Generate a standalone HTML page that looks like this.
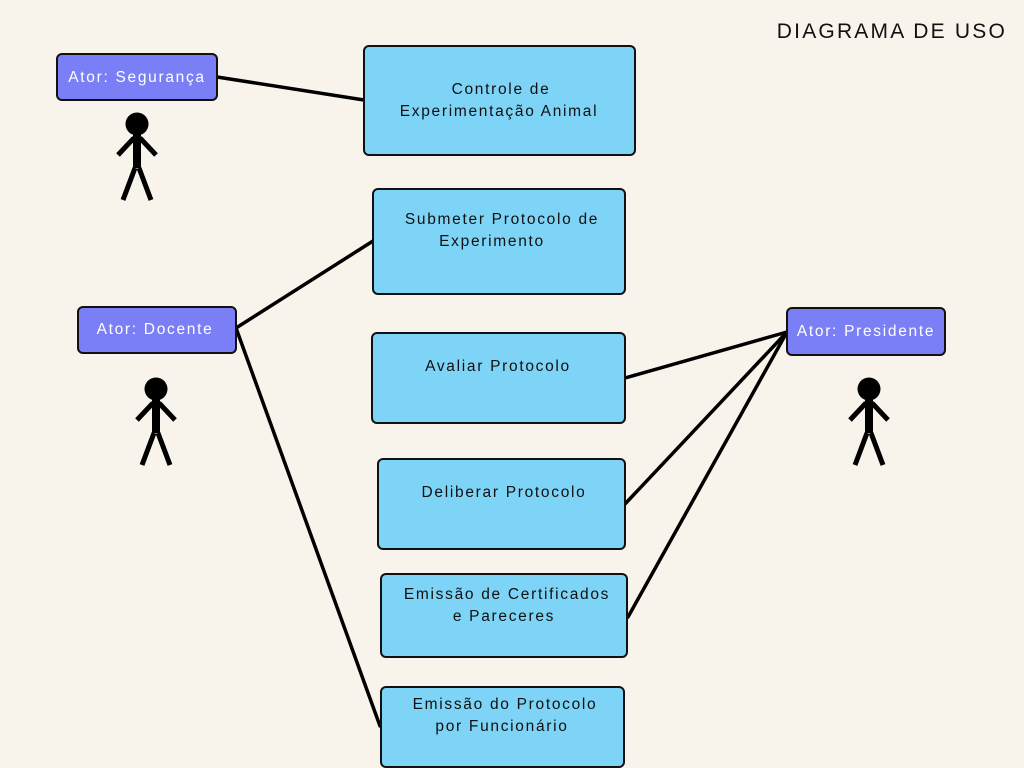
<!DOCTYPE html>
<html><head><meta charset="utf-8"><style>
html,body{margin:0;padding:0;background:#f8f4ec}
svg{display:block}
text{font-family:"Liberation Sans",sans-serif;font-size:15.5px;letter-spacing:1.7px}
</style></head><body>
<svg width="1024" height="768" viewBox="0 0 1024 768">
<rect width="1024" height="768" fill="#f8f4ec"/>
<text x="1007" y="38" text-anchor="end" style="font-size:21px;letter-spacing:2.2px" fill="#111">DIAGRAMA DE USO</text>
<g stroke="#000" stroke-width="3.5" stroke-linecap="round">
<line x1="217" y1="77" x2="364" y2="100"/>
<line x1="236" y1="328" x2="373" y2="241"/>
<line x1="236" y1="328" x2="380" y2="726"/>
<line x1="787" y1="332" x2="625" y2="378"/>
<line x1="787" y1="332" x2="625" y2="504"/>
<line x1="787" y1="332" x2="628" y2="617"/>
</g>
<g stroke="#111" stroke-width="2" fill="#7dd4f6">
<rect x="364" y="46" width="271" height="109" rx="5"/>
<rect x="373" y="189" width="252" height="105" rx="5"/>
<rect x="372" y="333" width="253" height="90" rx="5"/>
<rect x="378" y="459" width="247" height="90" rx="5"/>
<rect x="381" y="574" width="246" height="83" rx="5"/>
<rect x="381" y="687" width="243" height="80" rx="5"/>
</g>
<g fill="#111" text-anchor="middle">
<text x="501" y="94">Controle de</text>
<text x="499" y="116">Experimentação Animal</text>
<text x="502" y="224">Submeter Protocolo de</text>
<text x="492" y="246">Experimento</text>
<text x="498" y="371">Avaliar Protocolo</text>
<text x="504" y="497">Deliberar Protocolo</text>
<text x="507" y="599">Emissão de Certificados</text>
<text x="504" y="621">e Pareceres</text>
<text x="505" y="709">Emissão do Protocolo</text>
<text x="502" y="731">por Funcionário</text>
</g>
<g stroke="#111" stroke-width="2" fill="#7b7ff5">
<rect x="57" y="54" width="160" height="46" rx="5"/>
<rect x="78" y="307" width="158" height="46" rx="5"/>
<rect x="787" y="308" width="158" height="47" rx="5"/>
</g>
<g fill="#fff" text-anchor="middle">
<text x="137" y="82">Ator:  Segurança</text>
<text x="155" y="334">Ator: Docente</text>
<text x="866" y="336">Ator: Presidente</text>
</g>
<defs>
<g id="fig">
<circle cx="0" cy="0" r="11.5" fill="#000"/>
<g stroke="#000" stroke-width="5" fill="none">
<line x1="0" y1="10" x2="0" y2="44" stroke-width="8"/>
<polyline points="-19,31 -4,15 4,15 19,31"/>
<line x1="-2" y1="44" x2="-14" y2="76"/>
<line x1="2" y1="44" x2="14" y2="76"/>
</g>
</g>
</defs>
<use href="#fig" x="137" y="124"/>
<use href="#fig" x="156" y="389"/>
<use href="#fig" x="869" y="389"/>
</svg>
</body></html>
